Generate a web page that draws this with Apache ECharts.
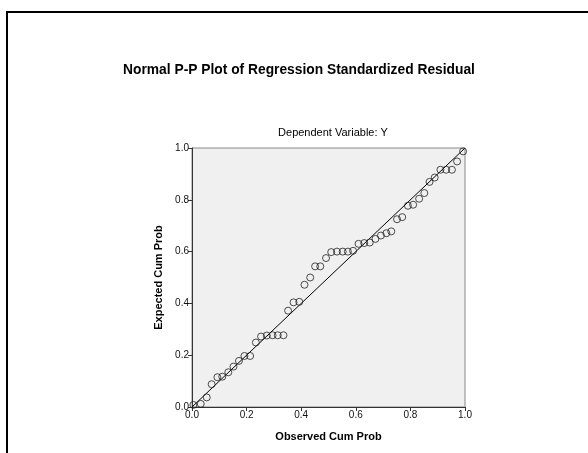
<!DOCTYPE html>
<html>
<head>
<meta charset="utf-8">
<script src="https://cdn.jsdelivr.net/npm/echarts@6/dist/echarts.min.js"></script>
<style>
html,body{margin:0;padding:0;background:#fff;}
#chart{width:588px;height:453px;}
</style>
</head>
<body>
<div id="chart"></div>
<script>
const titleText = "Normal P-P Plot of Regression Standardized Residual";
const subtitleText = "Dependent Variable: Y";
const xAxisName = "Observed Cum Prob";
const yAxisName = "Expected Cum Prob";

const observedCumProb = [0.005,0.032,0.054,0.072,0.093,0.111,0.133,0.152,0.172,0.192,
  0.213,0.234,0.253,0.274,0.295,0.314,0.335,0.352,0.372,0.393,
  0.412,0.433,0.451,0.470,0.491,0.510,0.531,0.552,0.571,0.590,
  0.610,0.631,0.651,0.672,0.692,0.712,0.730,0.751,0.770,0.791,
  0.810,0.832,0.851,0.870,0.889,0.910,0.931,0.952,0.971,0.993];
const expectedCumProb = [0.008,0.012,0.037,0.088,0.115,0.117,0.134,0.156,0.178,0.197,
  0.197,0.249,0.272,0.276,0.277,0.277,0.277,0.372,0.404,0.406,
  0.472,0.500,0.543,0.543,0.575,0.598,0.600,0.600,0.600,0.603,
  0.630,0.633,0.635,0.649,0.662,0.671,0.678,0.725,0.733,0.777,
  0.781,0.804,0.826,0.869,0.886,0.916,0.916,0.916,0.948,0.987];
const refLine = [[0,0],[1,1]];

const points = observedCumProb.map((x,i)=>[x, expectedCumProb[i]]);
const chart = echarts.init(document.getElementById('chart'), null, {renderer:'canvas'});
const font = "'Liberation Sans', Arial, sans-serif";
const axisCommon = {
  min:0, max:1, interval:0.2,
  axisLine:{show:true, lineStyle:{color:'#333', width:1}},
  axisTick:{show:true, inside:false, length:4, lineStyle:{color:'#333'}},
  axisLabel:{fontFamily:font, fontSize:10, color:'#111', formatter:v=>v.toFixed(1), margin:3},
  splitLine:{show:false},
  nameTextStyle:{fontFamily:font, fontSize:11, fontWeight:'bold', color:'#000'}
};
chart.setOption({
  animation:false,
  backgroundColor:'#fff',
  title:[
    {text:titleText, left:294, top:58, textAlign:'center',
     textStyle:{fontFamily:font, fontSize:13.8, fontWeight:'bold', color:'#000'}},
    {text:subtitleText, left:328, top:122, textAlign:'center',
     textStyle:{fontFamily:font, fontSize:11, fontWeight:'normal', color:'#000'}}
  ],
  graphic:[{type:'rect', shape:{x:7, y:12, width:620, height:520},
    style:{fill:'none', stroke:'#000', lineWidth:2}, silent:true}],
  grid:{left:192, top:148, width:273, height:259, show:true,
    backgroundColor:'#f0f0f0', borderColor:'#888', borderWidth:1},
  xAxis:Object.assign({}, axisCommon, {type:'value', name:xAxisName,
    nameLocation:'middle', nameGap:24}),
  yAxis:Object.assign({}, axisCommon, {type:'value', name:yAxisName,
    nameLocation:'middle', nameGap:28}),
  series:[
    {type:'line', data:refLine, symbol:'none', lineStyle:{color:'#000', width:1}, z:2},
    {type:'scatter', data:points, symbol:'circle', symbolSize:7,
     itemStyle:{color:'rgba(0,0,0,0)', borderColor:'#222', borderWidth:1}, z:3}
  ]
});
</script>
</body>
</html>
